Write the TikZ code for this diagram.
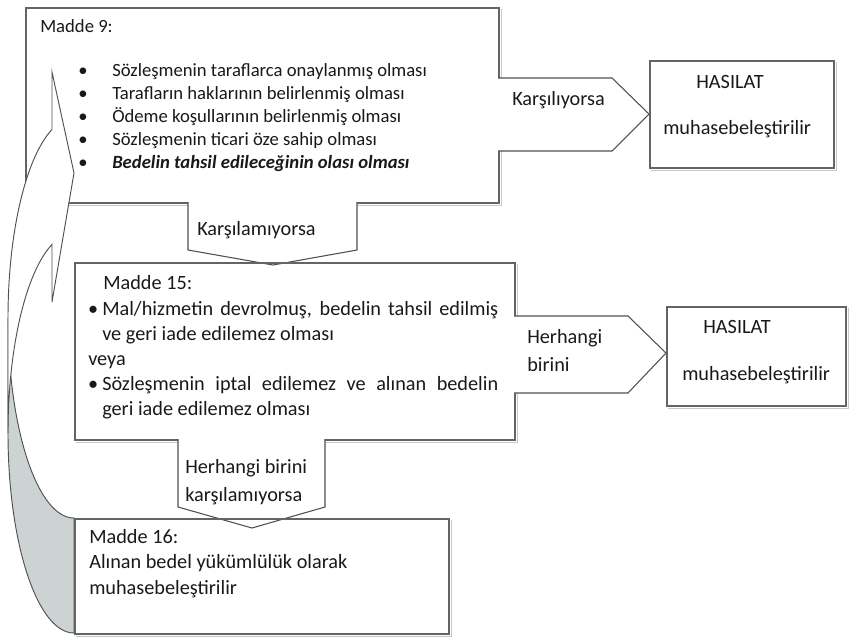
\documentclass[tikz,border=0pt]{standalone}
\usepackage{fontspec}
\setmainfont{Carlito}
\newdimen\pxu \pxu=0.75pt
\definecolor{edge}{RGB}{100,100,100}
\definecolor{arredge}{RGB}{80,80,80}
\definecolor{backgrey}{RGB}{205,210,211}
\definecolor{shadowc}{RGB}{200,200,200}
\definecolor{ink}{RGB}{25,25,25}
\tikzset{
  box/.style={draw=edge, line width=1.3pt, inner sep=0pt, anchor=north west},
  shadowln/.style={draw=shadowc, line width=1.1pt},
  blk/.style={draw=arredge, line width=0.8pt, fill=white, line join=miter},
  curv/.style={draw=arredge, line width=0.7pt},
  txt/.style={inner sep=0pt, text=ink, font=\fontsize{15.2}{18}\selectfont, anchor=base west},
  stxt/.style={txt, font=\fontsize{14}{16}\selectfont},
}
\begin{document}
\begin{tikzpicture}[x=0.75pt, y=-0.75pt]
\useasboundingbox (0,0) rectangle (852,643);
% Madde 9 box
\node[box, fill=white, minimum width=473\pxu, minimum height=195\pxu] (b9) at (25,7) {};
\draw[shadowln] ([shift={(1.6,2)}]b9.north east) -- ([shift={(1.6,1.6)}]b9.south east) -- ([shift={(2,1.6)}]b9.south west);
% Karsiliyorsa arrow
\draw[blk] (498,78) -- (612,78) -- (649,114) -- (612,151) -- (498,151);
% HASILAT 1
\node[box, fill=white, minimum width=184\pxu, minimum height=107\pxu] (h1) at (649,60) {};
\draw[shadowln] ([shift={(1.6,2)}]h1.north east) -- ([shift={(1.6,1.6)}]h1.south east) -- ([shift={(2,1.6)}]h1.south west);
% curved arrow: back part
\draw[curv, fill=backgrey] (8,318) arc[start angle=180, end angle=90, x radius=66, y radius=200]
  -- (74,633) arc[start angle=90, end angle=180, x radius=66, y radius=200] -- cycle;
% curved arrow: front part
\draw[curv, fill=white, line join=miter] (52,129.4) -- (52,72) -- (74,173) -- (52,302) -- (52,244.4)
  arc[start angle=250.53, end angle=180, x radius=66, y radius=200] -- (8,318)
  arc[start angle=180, end angle=250.53, x radius=66, y radius=200] -- cycle;
% Karsilamiyorsa arrow
\draw[blk] (188,202) -- (188,250) -- (273,265) -- (357,250) -- (357,202);
% Madde 15 box
\node[box, minimum width=440\pxu, minimum height=177\pxu] (b15) at (74,262) {};
\draw[shadowln] ([shift={(1.6,2)}]b15.north east) -- ([shift={(1.6,1.6)}]b15.south east) -- ([shift={(2,1.6)}]b15.south west);
% Herhangi birini arrow
\draw[blk] (514,316) -- (628,316) -- (666,353) -- (628,393) -- (514,393);
\node[box, fill=white, minimum width=179\pxu, minimum height=99\pxu] (h2) at (666,306) {};
\draw[shadowln] ([shift={(1.6,2)}]h2.north east) -- ([shift={(1.6,1.6)}]h2.south east) -- ([shift={(2,1.6)}]h2.south west);
% Herhangi birini karsilamiyorsa arrow
\draw[blk] (178,439) -- (178,507) -- (252,528) -- (325,507) -- (325,439);
% Madde 16 box
\node[box, minimum width=374\pxu, minimum height=115\pxu] (b16) at (74,518) {};
\draw[shadowln] ([shift={(1.6,2)}]b16.north east) -- ([shift={(1.6,1.6)}]b16.south east) -- ([shift={(2,1.6)}]b16.south west);

% texts box 9
\node[stxt] (t9) at (40,32) {Madde 9:};
\node[stxt] (t9a) at (112,76) {\llap{\textbullet\hspace{18.5pt}}Sözleşmenin taraflarca onaylanmış olması};
\node[stxt] (t9b) at (112,99) {\llap{\textbullet\hspace{18.5pt}}Tarafların haklarının belirlenmiş olması};
\node[stxt] (t9c) at (112,122) {\llap{\textbullet\hspace{18.5pt}}Ödeme koşullarının belirlenmiş olması};
\node[stxt] (t9d) at (112,145) {\llap{\textbullet\hspace{18.5pt}}Sözleşmenin ticari öze sahip olması};
\node[stxt] (t9e) at (112,168) {\llap{\textbullet\hspace{18.5pt}}\textbf{\textit{Bedelin tahsil edileceğinin olası olması}}};
% arrow labels
\node[txt] (l1) at (512,105) {Karşılıyorsa};
\node[txt] (l2) at (197,235) {Karşılamıyorsa};
\node[txt] (l3a) at (527,343) {Herhangi};
\node[txt] (l3b) at (527,371) {birini};
\node[txt] (l4a) at (185,473) {Herhangi birini};
\node[txt] (l4b) at (185,501) {karşılamıyorsa};
% HASILAT texts
\node[txt, anchor=base] (h1a) at (730,88) {HASILAT};
\node[txt] (h1b) at (663,134) {muhasebeleştirilir};
\node[txt, anchor=base] (h2a) at (737,333) {HASILAT};
\node[txt] (h2b) at (682,380) {muhasebeleştirilir};
% Madde 15 texts
\node[txt] (t15) at (103,289) {Madde 15:};
\node[txt] (t15a) at (102,315) {\llap{\textbullet\hspace{3pt}}\makebox[396\pxu][s]{Mal/hizmetin devrolmuş, bedelin tahsil edilmiş}};
\node[txt] (t15b) at (102,340) {ve geri iade edilemez olması};
\node[txt] (t15c) at (88,365) {veya};
\node[txt] (t15d) at (102,390) {\llap{\textbullet\hspace{3pt}}\makebox[396\pxu][s]{Sözleşmenin iptal edilemez ve alınan bedelin}};
\node[txt] (t15e) at (102,415) {geri iade edilemez olması};
% Madde 16 texts
\node[txt] (t16) at (89,543) {Madde 16:};
\node[txt] (t16a) at (89,568) {Alınan bedel yükümlülük olarak};
\node[txt] (t16b) at (89,594) {muhasebeleştirilir};
\end{tikzpicture}
\end{document}
